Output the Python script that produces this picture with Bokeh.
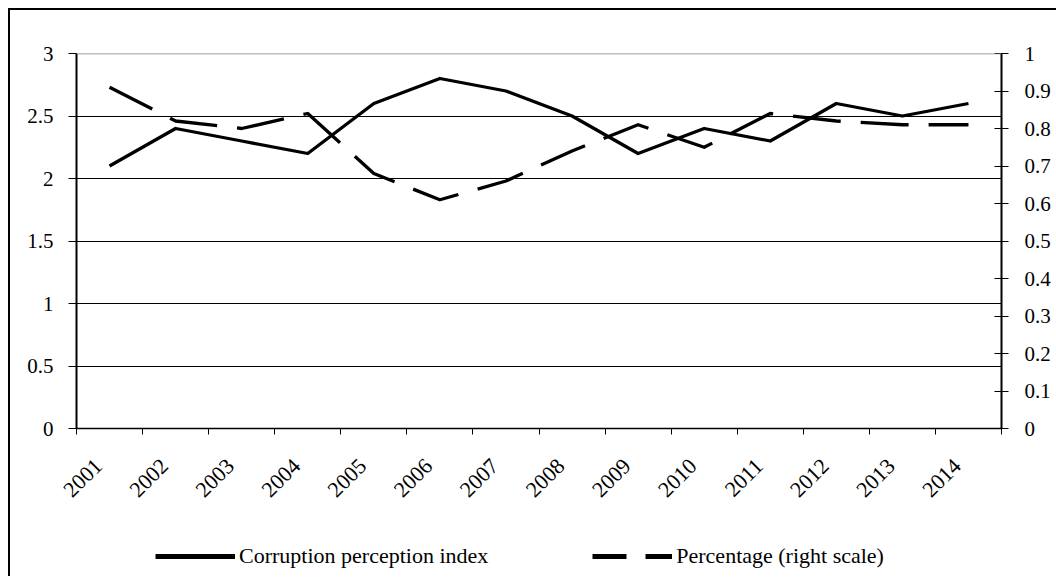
import math
from bokeh.plotting import figure
from bokeh.layouts import column
from bokeh.models import (Range1d, LinearAxis, FixedTicker, CustomJSTickFormatter,
                          Span, Legend, LegendItem)
from bokeh.embed import file_html
from bokeh.resources import INLINE

# ---- data ----
years = ["2001", "2002", "2003", "2004", "2005", "2006", "2007",
         "2008", "2009", "2010", "2011", "2012", "2013", "2014"]
cpi = [2.1, 2.4, 2.3, 2.2, 2.6, 2.8, 2.7, 2.5, 2.2, 2.4, 2.3, 2.6, 2.5, 2.6]
pct = [0.91, 0.82, 0.80, 0.84, 0.68, 0.61, 0.66, 0.74, 0.81, 0.75, 0.84, 0.82, 0.81, 0.81]
left_ticks = [0, 0.5, 1, 1.5, 2, 2.5, 3]
right_ticks = [0, 0.1, 0.2, 0.3, 0.4, 0.5, 0.6, 0.7, 0.8, 0.9, 1]
series_names = ["Corruption perception index", "Percentage (right scale)"]

FONT = "Liberation Serif"
FS_Y = "21px"
FS_X = "22px"
FS_L = "22px"

n = len(years)
x = [i + 0.5 for i in range(n)]            # category centres
label_pos = [i + 0.333 for i in range(n)]  # where Excel anchors the slanted labels

p = figure(width=1046, height=520, output_backend="svg", toolbar_location=None,
           x_range=Range1d(0, n), y_range=Range1d(left_ticks[0], left_ticks[-1]),
           min_border_left=66, min_border_right=55, min_border_top=43,
           min_border_bottom=102)
p.outline_line_color = None
p.background_fill_color = "white"
p.border_fill_color = "white"

# grid
p.xgrid.grid_line_color = None
p.ygrid.ticker = FixedTicker(ticks=left_ticks[1:-1])
p.ygrid.grid_line_color = "black"
p.ygrid.grid_line_width = 1
p.add_layout(Span(location=left_ticks[-1], dimension="width",
                  line_color="#808080", line_width=1.5))

# x axis
xa = p.xaxis[0]
xa.ticker = FixedTicker(ticks=label_pos, minor_ticks=list(range(n + 1)))
xa.formatter = CustomJSTickFormatter(args=dict(labels=years), code="""
const i = Math.floor(tick);
return (i >= 0 && i < labels.length) ? labels[i] : '';
""")
xa.major_tick_line_color = None
xa.major_tick_out = 6
xa.minor_tick_line_color = "black"
xa.minor_tick_line_width = 1
xa.minor_tick_out = 6
xa.minor_tick_in = 0
xa.axis_line_color = "black"
xa.axis_line_width = 1.5
xa.major_label_orientation = math.pi / 4
xa.major_label_standoff = 28
xa.major_label_text_font = FONT
xa.major_label_text_font_size = FS_X
xa.major_label_text_color = "black"

# left axis
ya = p.yaxis[0]
ya.ticker = FixedTicker(ticks=left_ticks)
ya.formatter = CustomJSTickFormatter(code="return String(Math.round(tick*10)/10);")
ya.axis_line_color = "black"
ya.axis_line_width = 2
ya.major_tick_line_color = "black"
ya.major_tick_out = 8
ya.major_tick_in = 0
ya.minor_tick_line_color = None
ya.major_label_standoff = 15
ya.major_label_text_font = FONT
ya.major_label_text_font_size = FS_Y
ya.major_label_text_color = "black"

# right axis
p.extra_y_ranges = {"right": Range1d(right_ticks[0], right_ticks[-1])}
ra = LinearAxis(y_range_name="right", ticker=FixedTicker(ticks=right_ticks),
                formatter=CustomJSTickFormatter(code="return String(Math.round(tick*10)/10);"))
ra.axis_line_color = "black"
ra.axis_line_width = 2
ra.major_tick_line_color = "black"
ra.major_tick_out = 7
ra.major_tick_in = 7
ra.minor_tick_line_color = None
ra.major_label_standoff = 16
ra.major_label_text_font = FONT
ra.major_label_text_font_size = FS_Y
ra.major_label_text_color = "black"
p.add_layout(ra, "right")

# series
r1 = p.line(x, cpi, line_color="black", line_width=3.3, line_join="round")
r2 = p.line(x, pct, y_range_name="right", line_color="black", line_width=3.3,
            line_dash="48 20", line_join="round")

# legend strip (separate figure below the chart, like Excel's key area)
q = figure(width=1046, height=46, output_backend="svg", toolbar_location=None,
           x_axis_location=None, y_axis_location=None, min_border=0,
           x_range=Range1d(0, 1), y_range=Range1d(0, 1))
q.outline_line_color = None
q.grid.visible = False
q.background_fill_color = "white"
q.border_fill_color = "white"
# key-only renderers, kept off-screen; they only supply the legend samples
k1 = q.line([-5, -4], [-5, -5], line_color="black", line_width=5)
k2 = q.line([-5, -4], [-5, -5], line_color="black", line_width=5, line_dash="34 19")
legend = Legend(items=[LegendItem(label=series_names[0], renderers=[k1]),
                       LegendItem(label=series_names[1], renderers=[k2])],
                location=(79, 7), orientation="horizontal",
                glyph_width=80, glyph_height=20, label_standoff=4, spacing=104,
                padding=0, margin=0, border_line_color=None,
                background_fill_alpha=0,
                label_text_font=FONT, label_text_font_size=FS_L,
                label_text_color="black")
q.add_layout(legend)

layout = column(p, q, spacing=0, styles={
    "margin-left": "8px", "margin-top": "8px",
    "border-left": "2px solid black", "border-top": "2px solid black",
})

open("out.html", "w").write(file_html(layout, INLINE))
